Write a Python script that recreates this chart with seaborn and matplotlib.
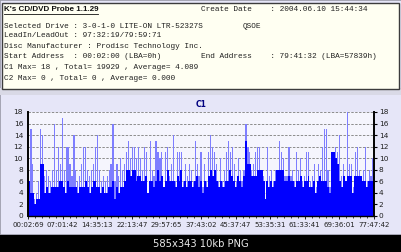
import numpy as np
import pandas as pd
import matplotlib
matplotlib.use("Agg")
import matplotlib.pyplot as plt
from matplotlib.patches import Rectangle
from matplotlib.lines import Line2D
import seaborn as sns

# ---------------- data ----------------
header_title = "K's CD/DVD Probe 1.1.29"
create_date = "Create Date    : 2004.06.10 15:44:34"
info_lines = [
    "Selected Drive : 3-0-1-0 LITE-ON LTR-52327S",
    "LeadIn/LeadOut : 97:32:19/79:59:71",
    "Disc Manufacturer : Prodisc Technology Inc.",
    "Start Address  : 00:02:00 (LBA=0h)",
    "C1 Max= 18 , Total= 19929 , Average= 4.089",
    "C2 Max= 0 , Total= 0 , Average= 0.000",
]
drive_fw = "QSOE"
end_address = "End Address    : 79:41:32 (LBA=57839h)"
chart_title = "C1"
footer = "585x343 10kb PNG"

x_tick_labels = ["00:02:69", "07:01:42", "14:35:13", "22:13:47", "29:57:65",
                 "37:43:02", "45:37:47", "53:35:31", "61:33:41", "69:36:01",
                 "77:47:42"]
y_ticks = [0, 2, 4, 6, 8, 10, 12, 14, 16, 18]

# C1 per sample: peak (light) and bulk (dark) levels
c1_peak = [6, 15, 9, 3, 4, 6, 15, 14, 7, 8, 7, 6, 8, 16, 8, 12, 9, 17, 8, 12,
           12, 9, 7, 14, 8, 6, 7, 9, 12, 12, 8, 7, 8, 9, 12, 14, 8, 6, 7, 6,
           7, 8, 9, 16, 6, 9, 7, 10, 8, 9, 11, 13, 10, 12, 12, 10, 12, 10,
           8, 12, 11, 4, 13, 8, 7, 13, 11, 10, 11, 5, 11, 12, 7, 9, 14, 6, 11,
           11, 11, 6, 9, 7, 9, 8, 6, 13, 9, 7, 11, 5, 9, 6, 11, 14, 12, 11, 9,
           6, 10, 6, 8, 11, 13, 11, 12, 9, 6, 10, 8, 6, 8, 16, 12, 11, 8, 9,
           11, 12,
           12, 8, 7, 3, 12, 7, 8, 6, 8, 8, 13, 11, 10, 7, 7, 12, 7, 8, 6, 11,
           8, 10, 6, 7, 11, 11, 6, 7, 9, 5, 9, 8, 12, 15, 15, 8, 5, 11, 11, 12,
           11, 14, 7, 9, 6, 18, 9, 9, 5, 11, 12, 8, 7, 8, 12, 6, 8, 7, 10]
c1_bulk = [6, 4, 4, 2, 3, 3, 9, 9, 4, 5, 4, 4, 5, 5, 5, 5, 6, 6, 5, 4,
           6, 5, 5, 5, 5, 4, 5, 5, 5, 6, 5, 4, 5, 6, 6, 5, 5, 4, 5, 4,
           4, 5, 5, 6, 3, 5, 4, 5, 5, 6, 8, 8, 7, 8, 8, 6, 7, 7,
           6, 6, 7, 4, 6, 6, 5, 6, 8, 6, 7, 5, 6, 8, 6, 6, 6, 5, 7,
           6, 8, 5, 6, 5, 6, 6, 5, 6, 7, 5, 6, 4, 6, 5, 7, 8, 7, 8, 6,
           5, 6, 5, 5, 6, 6, 8, 7, 6, 5, 7, 6, 5, 7, 13, 9, 9, 7, 7,
           7, 8,
           8, 8, 6, 3, 6, 5, 6, 5, 6, 8, 8, 8, 8, 6, 6, 7, 6, 6, 5, 6,
           6, 7, 5, 6, 6, 7, 5, 5, 6, 4, 6, 7, 6, 6, 6, 5, 4, 11, 11, 10,
           9, 6, 5, 7, 6, 7, 7, 7, 4, 7, 7, 7, 7, 6, 6, 5, 6, 6, 6]

N = len(c1_peak)
df = pd.DataFrame({"sample": np.arange(N), "peak": c1_peak, "bulk": c1_bulk})

# ---------------- figure ----------------
W, H = 402, 252
fig = plt.figure(figsize=(W / 100, H / 100), dpi=100)
fig.patch.set_facecolor("#E6E6F8")


def fx(x):
    return x / W


def fy(y):
    return 1 - y / H


def rect(x0, y0, x1, y1, **kw):
    fig.patches.append(Rectangle((fx(x0), fy(y1)), fx(x1) - fx(x0), fy(y0) - fy(y1),
                                 transform=fig.transFigure, figure=fig, zorder=-10, **kw))


# outer frame and panels
rect(0, 0, 402, 235, facecolor="#E6E6F8", edgecolor="#9A9AA8", lw=1.2)
rect(0, 88, 402, 95, facecolor="#D9D9E6", edgecolor="none")
rect(2.5, 2.5, 399.5, 88.5, facecolor="#FFFFF2", edgecolor="#3C3C3C", lw=1.0)
rect(0, 234.5, 402, 252, facecolor="#000000", edgecolor="none")

mono = "Liberation Mono"
fig.text(fx(4), fy(9.5), header_title, fontsize=5.8, fontweight="bold",
         family="Liberation Sans", color="#101010", va="center", ha="left")
fig.lines.append(Line2D([fx(4), fx(98)], [fy(13.6), fy(13.6)], transform=fig.transFigure,
                        color="#101010", lw=0.6))
fig.text(fx(201), fy(9.5), create_date, fontsize=5.6, family=mono,
         color="#202020", va="center", ha="left")
line_y = [26, 35.5, 46.5, 57, 68, 79]
for txt, yy in zip(info_lines, line_y):
    fig.text(fx(4), fy(yy), txt, fontsize=5.6, family=mono, color="#202020",
             va="center", ha="left")
fig.text(fx(243), fy(26), drive_fw, fontsize=5.6, family=mono, color="#202020",
         va="center", ha="left")
fig.text(fx(201), fy(57), end_address, fontsize=5.6, family=mono, color="#202020",
         va="center", ha="left")
fig.text(fx(201), fy(244), footer, fontsize=7.2, color="#E8E8E8",
         va="center", ha="center", family="DejaVu Sans")

# chart
ax = fig.add_axes([fx(28), fy(216), fx(374) - fx(28), fy(112) - fy(216)])
ax.set_facecolor("#F5F5FD")
sns.barplot(data=df, x="sample", y="peak", color="#7E7EFF", saturation=1,
            width=0.6, linewidth=0, errorbar=None, ax=ax)
sns.barplot(data=df, x="sample", y="bulk", color="#0000FF", saturation=1,
            width=1.0, linewidth=0, errorbar=None, ax=ax)
ax.set_xlim(-0.5, N - 0.5)
ax.set_ylim(0, 18)
ax.set_xlabel("")
ax.set_ylabel("")
ax.set_yticks(y_ticks)
ax.set_yticklabels([str(v) for v in y_ticks])
ax.set_xticks(np.linspace(-0.5, N - 0.5, len(x_tick_labels)))
ax.set_xticklabels(x_tick_labels)
ax.set_xticks(np.linspace(-0.5, N - 0.5, 51), minor=True)
ax.set_axisbelow(True)
ax.grid(axis="y", linestyle=(0, (2.5, 1.5)), color="#8C8C8C", lw=0.7)
ax.grid(axis="x", visible=False)
ax.tick_params(axis="y", which="both", labelsize=5.3, labelcolor="#202020",
               left=False, right=True, labelleft=True, labelright=True,
               length=2, width=0.8, pad=1.5, direction="out")
ax.tick_params(axis="x", which="major", labelsize=5.0, labelcolor="#202020",
               length=2, width=0.6, pad=2)
ax.tick_params(axis="x", which="minor", length=1.2, width=0.5)
ax.spines["top"].set_visible(False)
for s in ("left", "right"):
    ax.spines[s].set_color("#000000")
    ax.spines[s].set_linewidth(1.4)
ax.spines["bottom"].set_color("#000000")
ax.spines["bottom"].set_linewidth(1.0)

fig.text(fx(201), fy(104.5), chart_title, fontsize=5.5, fontweight="bold",
         color="#000080", ha="center", va="center", family="DejaVu Sans")

fig.savefig("out.png", dpi=100, facecolor=fig.get_facecolor())
